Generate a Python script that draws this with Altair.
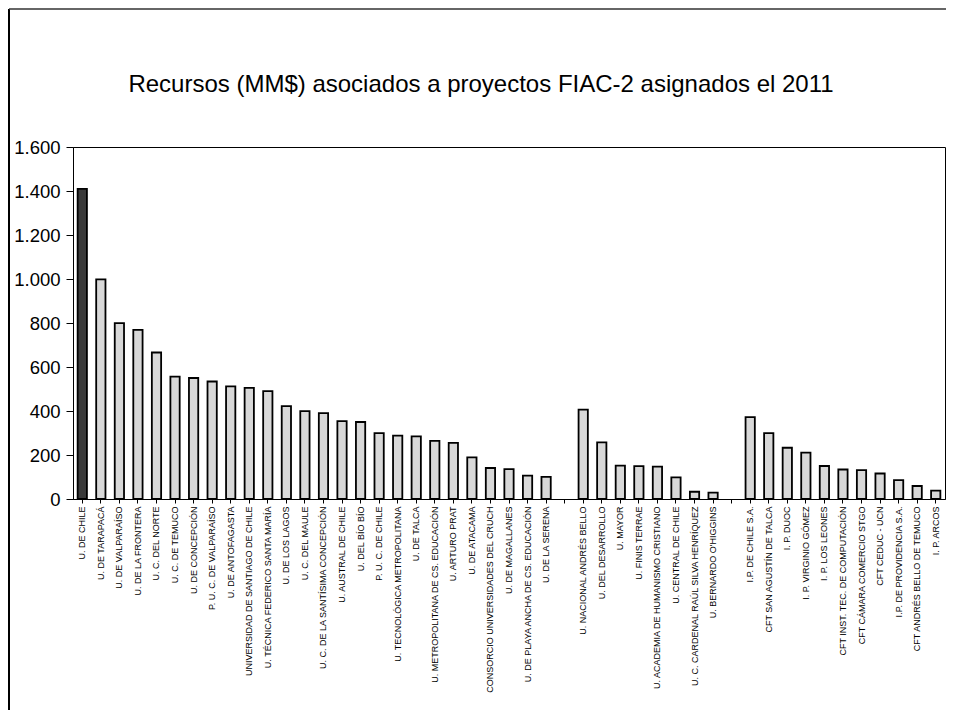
import altair as alt
import pandas as pd

titulo = "Recursos (MM$) asociados a proyectos FIAC-2 asignados el 2011"

nombres = [
    "U. DE CHILE", "U. DE TARAPACÁ", "U. DE VALPARAÍSO", "U. DE LA FRONTERA",
    "U. C. DEL NORTE", "U. C. DE TEMUCO", "U. DE CONCEPCIÓN", "P. U. C. DE VALPARAÍSO",
    "U. DE ANTOFAGASTA", "UNIVERSIDAD DE SANTIAGO DE CHILE", "U. TÉCNICA FEDERICO SANTA MARÍA",
    "U. DE LOS LAGOS", "U. C. DEL MAULE", "U. C. DE LA SANTÍSIMA CONCEPCIÓN",
    "U. AUSTRAL DE CHILE", "U. DEL BÍO BÍO", "P. U. C. DE CHILE",
    "U. TECNOLÓGICA METROPOLITANA", "U. DE TALCA", "U. METROPOLITANA DE CS. EDUCACIÓN",
    "U. ARTURO PRAT", "U. DE ATACAMA", "CONSORCIO UNIVERSIDADES DEL CRUCH",
    "U. DE MAGALLANES", "U. DE PLAYA ANCHA DE CS. EDUCACIÓN", "U. DE LA SERENA",
    "U. NACIONAL ANDRÉS BELLO", "U. DEL DESARROLLO", "U. MAYOR", "U. FINIS TERRAE",
    "U. ACADEMIA DE HUMANISMO CRISTIANO", "U. CENTRAL DE CHILE",
    "U. C. CARDENAL RAÚL SILVA HENRÍQUEZ", "U. BERNARDO O'HIGGINS",
    "I.P. DE CHILE S.A.", "CFT SAN AGUSTÍN DE TALCA", "I. P. DUOC", "I. P. VIRGINIO GÓMEZ",
    "I. P. LOS LEONES", "CFT INST. TEC. DE COMPUTACIÓN", "CFT CÁMARA COMERCIO STGO",
    "CFT CEDUC - UCN", "I.P. DE PROVIDENCIA S.A.", "CFT ANDRÉS BELLO DE TEMUCO", "I. P. ARCOS",
]
valores = [
    1410, 998, 799, 769, 666, 556, 550, 534, 512, 505, 490,
    422, 399, 390, 354, 350, 299, 288, 285, 264,
    255, 189, 141, 136, 106, 101,
    406, 257, 152, 149, 147, 98, 33, 29,
    372, 299, 233, 211, 150, 134, 131, 116, 86, 59, 38,
]
rellenos = ["#3a3a3a"] + ["#d8d8d8"] * 44
marcas_y = [0, 200, 400, 600, 800, 1000, 1200, 1400, 1600]

# two blank slots separate the three groups of institutions
orden = nombres[:26] + [" "] + nombres[26:34] + ["  "] + nombres[34:]

df = pd.DataFrame({"nombre": nombres, "valor": valores, "relleno": rellenos})
df_titulo = pd.DataFrame({"t": [titulo]})

x = alt.X(
    "nombre:N",
    scale=alt.Scale(domain=orden, paddingInner=0.5, paddingOuter=0.25),
    axis=alt.Axis(
        title=None,
        labelAngle=-90,
        labelFontSize=9,
        labelLimit=300,
        labelFont="Liberation Sans",
        labelColor="black",
        labelPadding=3,
        tickSize=4,
        tickColor="black",
        domainColor="black",
    ),
)
y = alt.Y(
    "valor:Q",
    scale=alt.Scale(domain=[0, 1600]),
    axis=alt.Axis(
        title=None,
        values=marcas_y,
        labelExpr="replace(format(datum.value, ','), ',', '.')",
        labelFontSize=18.5,
        labelFont="Liberation Sans",
        labelColor="black",
        labelPadding=6,
        tickSize=7,
        tickColor="black",
        domainColor="black",
        grid=False,
    ),
)

bars = alt.Chart(df).mark_bar(stroke="black", strokeWidth=1.8).encode(
    x=x,
    y=y,
    fill=alt.Fill("relleno:N", scale=None),
)

# chart title drawn as a single text mark above the plot
title_mark = alt.Chart(df_titulo).mark_text(
    font="Liberation Sans", fontSize=24, color="black", align="center", baseline="alphabetic"
).encode(
    text="t:N",
    x=alt.value(408),
    y=alt.value(-55),
)

# outer frame of the scanned page (left and top edges)
frame_left = alt.Chart(df_titulo).mark_rule(color="black", strokeWidth=2).encode(
    x=alt.value(-64), y=alt.value(-138), y2=alt.value(570)
)
frame_top = alt.Chart(df_titulo).mark_rule(color="#333333", strokeWidth=1.5).encode(
    x=alt.value(-64), x2=alt.value(880), y=alt.value(-138)
)

chart = alt.layer(bars, title_mark, frame_left, frame_top).properties(
    width=872,
    height=352,
    autosize=alt.AutoSizeParams(type="none"),
    padding={"left": 65, "top": 139, "right": 1, "bottom": 211},
).configure_view(stroke="black")

chart.save("out.html", embed_options={"renderer": "svg", "actions": False})
